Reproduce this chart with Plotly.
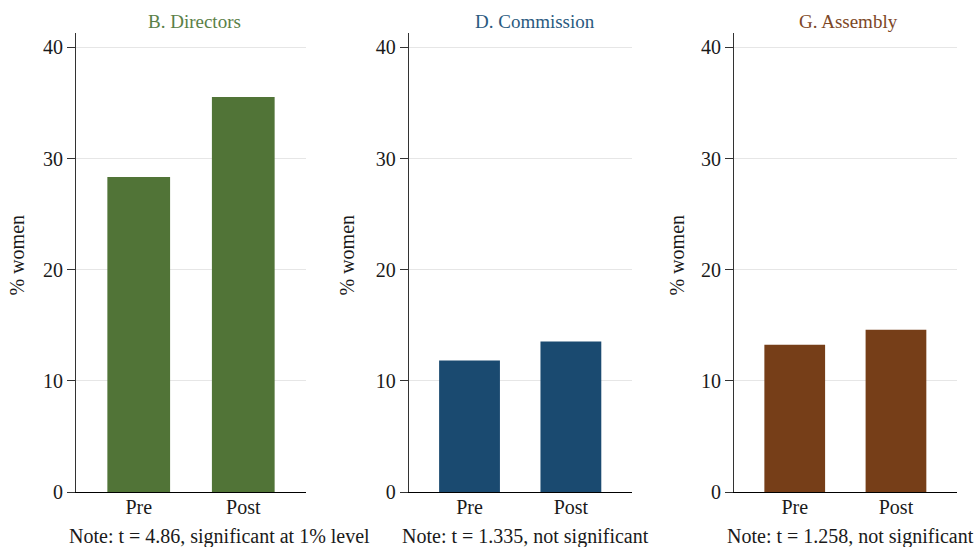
import plotly.graph_objects as go

# Share of women before and after, by body
categories = ["Pre", "Post"]
directors = [28.35, 35.55]
commission = [11.83, 13.54]
assembly = [13.25, 14.6]

panel_titles = ["B. Directors", "D. Commission", "G. Assembly"]
notes = [
    "Note: t = 4.86, significant at 1% level",
    "Note: t = 1.335, not significant",
    "Note: t = 1.258, not significant",
]
y_ticks = [0, 10, 20, 30, 40]

W, H = 980, 547
FONT = "'Times New Roman', Times, 'Liberation Serif', serif"

bar_colors = ["#517437", "#1A4A70", "#763E18"]
title_colors = ["#5A8047", "#2A5A80", "#7D4726"]

# plot-area pixel extents for each panel
x_px = [(76, 306), (408.7, 631.7), (734, 956.7)]
y_top_px, y_bot_px = 33, 492
title_x_px = [194.5, 535, 848]
ytitle_x_px = [16.5, 346.5, 676.5]

series = [directors, commission, assembly]

fig = go.Figure()
for i, vals in enumerate(series):
    sfx = "" if i == 0 else str(i + 1)
    fig.add_trace(go.Bar(
        x=[0, 1], y=vals, width=0.6,
        marker=dict(color=bar_colors[i], line=dict(width=0)),
        xaxis="x" + sfx, yaxis="y" + sfx, showlegend=False,
    ))

layout = dict(
    width=W, height=H,
    margin=dict(l=0, r=0, t=0, b=0, autoexpand=False),
    plot_bgcolor="white", paper_bgcolor="white",
    font=dict(family=FONT, size=20, color="#1a1a1a"),
    showlegend=False,
)
y_dom = [(H - y_bot_px) / H, (H - y_top_px) / H]
annotations = []
for i in range(3):
    sfx = "" if i == 0 else str(i + 1)
    l, r = x_px[i]
    layout["xaxis" + sfx] = dict(
        domain=[l / W, r / W], range=[-0.6, 1.6],
        tickvals=[0, 1], ticktext=categories, ticks="",
        ticklabelstandoff=-3,
        showline=True, linecolor="#000000", linewidth=1,
        showgrid=False, zeroline=False, fixedrange=True,
        tickfont=dict(size=20, family=FONT, color="#1a1a1a"),
        anchor="y" + sfx,
    )
    layout["yaxis" + sfx] = dict(
        domain=y_dom, range=[0, 41.3],
        tickvals=y_ticks, ticks="outside", ticklen=8, tickcolor="#333333",
        showline=True, linecolor="#333333", linewidth=1,
        showgrid=True, gridcolor="#e6e6e6", gridwidth=1,
        zeroline=False, fixedrange=True,
        tickfont=dict(size=20, family=FONT, color="#1a1a1a"),
        anchor="x" + sfx,
    )
    annotations.append(dict(
        text=panel_titles[i], xref="paper", yref="paper",
        x=title_x_px[i] / W, y=(H - 21) / H, xanchor="center", yanchor="middle",
        showarrow=False, font=dict(size=19, family=FONT, color=title_colors[i]),
    ))
    annotations.append(dict(
        text="% women", xref="paper", yref="paper", textangle=-90,
        x=ytitle_x_px[i] / W, y=(H - 255) / H, xanchor="center", yanchor="middle",
        showarrow=False, font=dict(size=20, family=FONT, color="#1a1a1a"),
    ))
    annotations.append(dict(
        text=notes[i], xref="paper", yref="paper",
        x=(l - 9) / W, y=(H - 536) / H, xanchor="left", yanchor="middle",
        showarrow=False, font=dict(size=20, family=FONT, color="#1a1a1a"),
    ))
layout["annotations"] = annotations
fig.update_layout(**layout)

fig.write_html("out.html")
